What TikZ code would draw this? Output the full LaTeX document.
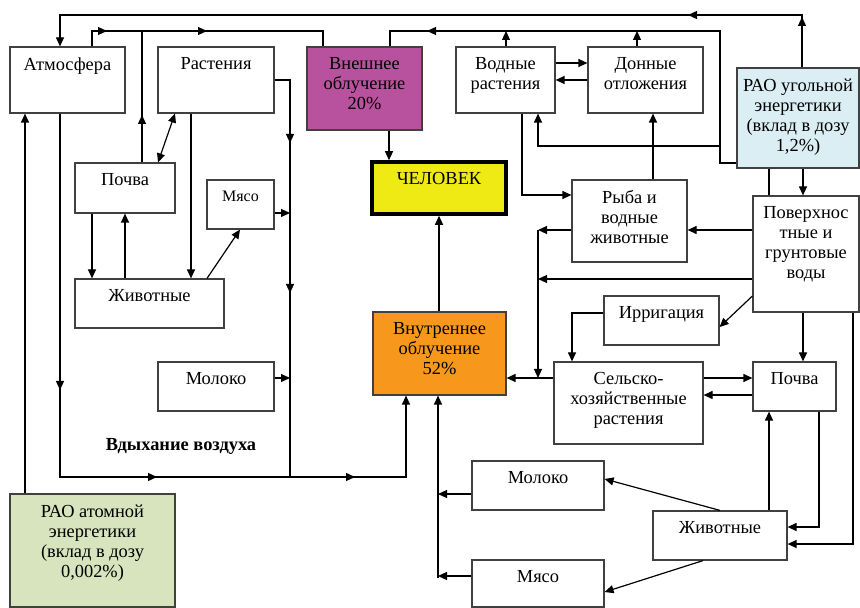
\documentclass[tikz,border=0pt]{standalone}
\usepackage{fontspec}
\setmainfont{Liberation Serif}
\usetikzlibrary{arrows.meta}

\definecolor{vneshcol}{HTML}{B9529E}
\definecolor{chelcol}{HTML}{F0EA14}
\definecolor{vnutcol}{HTML}{F7981D}
\definecolor{coalcol}{HTML}{DAEEF3}
\definecolor{atomcol}{HTML}{D7E4BD}

\tikzset{
  box/.style={draw=black!75, line width=0.6pt, fill=white, inner sep=0pt},
  lbl/.style={anchor=north, align=center, inner sep=0pt, yshift=-5.5pt,
    font=\fontsize{9.2}{10}\selectfont},
  wire/.style={line width=0.6pt},
  arr/.style={wire, -{Triangle[length=4.5pt,width=4pt]}},
}

\begin{document}
\begin{tikzpicture}[x=0.5pt,y=-0.5pt]

\useasboundingbox (0,0) rectangle (860,608);

% ---- Boxes, left part ----
\node[box, minimum width=57.5pt, minimum height=33pt, label={[lbl]north:Атмосфера}] (atm) at (67.5,80) {};
\node[box, minimum width=58pt, minimum height=33pt, label={[lbl]north:Растения}] (rast) at (216,80) {};
\node[box, minimum width=50pt, minimum height=25pt, label={[lbl]north:Почва}] (pochL) at (125,188) {};
\node[box, minimum width=33.5pt, minimum height=24.5pt, label={[lbl, font=\fontsize{8}{9}\selectfont]north:Мясо}] (myasL) at (240.5,204.5) {};
\node[box, minimum width=74.5pt, minimum height=24.5pt, label={[lbl]north:Животные}] (zhivL) at (149.5,303.5) {};
\node[box, minimum width=58pt, minimum height=24.5pt, label={[lbl]north:Молоко}] (molL) at (216,386.5) {};
\node[box, fill=atomcol, minimum width=82.5pt, minimum height=56.5pt,
  label={[lbl]north:{РАО атомной\\энергетики\\(вклад в дозу\\0,002\%)}}] (raoa) at (92.5,550.5) {};
\node[font=\bfseries\fontsize{9.2}{10}\selectfont] (vdyh) at (181,446) {Вдыхание воздуха};

% ---- Boxes, middle ----
\node[box, fill=vneshcol, minimum width=57.5pt, minimum height=41.5pt,
  label={[lbl]north:{Внешнее\\облучение\\20\%}}] (vnesh) at (364.5,88.5) {};
\node[box, fill=chelcol, draw=black, line width=1.8pt, minimum width=67pt, minimum height=26pt,
  label={[lbl, yshift=-0.6pt]north:ЧЕЛОВЕК}] (chel) at (439,188) {};
\node[box, fill=vnutcol, minimum width=66.5pt, minimum height=41.5pt,
  label={[lbl]north:{Внутреннее\\облучение\\52\%}}] (vnut) at (439.5,353.5) {};

% ---- Boxes, right part ----
\node[box, minimum width=49.5pt, minimum height=33pt, label={[lbl]north:{Водные\\растения}}] (vodr) at (505.5,80) {};
\node[box, minimum width=57.5pt, minimum height=33pt, label={[lbl]north:{Донные\\отложения}}] (donn) at (645.5,80) {};
\node[box, fill=coalcol, minimum width=61pt, minimum height=50pt,
  label={[lbl]north:{РАО угольной\\энергетики\\(вклад в дозу\\1,2\%)}}] (raoc) at (798,118) {};
\node[box, minimum width=57.5pt, minimum height=41pt, label={[lbl]north:{Рыба и\\водные\\животные}}] (ryba) at (629.5,221) {};
\node[box, minimum width=53pt, minimum height=58pt,
  label={[lbl]north:{Поверхнос\\тные и\\грунтовые\\воды}}] (pov) at (806,254) {};
\node[box, minimum width=57.5pt, minimum height=24.5pt, label={[lbl]north:Ирригация}] (irr) at (661.5,320.5) {};
\node[box, minimum width=74.5pt, minimum height=41pt,
  label={[lbl]north:{Сельско-\\хозяйственные\\растения}}] (selk) at (628.5,403) {};
\node[box, minimum width=41.5pt, minimum height=24.5pt, label={[lbl]north:Почва}] (pochR) at (794.5,386.5) {};
\node[box, minimum width=66pt, minimum height=24.5pt, label={[lbl]north:Молоко}] (molR) at (538,485.5) {};
\node[box, minimum width=67pt, minimum height=24.5pt, label={[lbl]north:Животные}] (zhivR) at (720,535.5) {};
\node[box, minimum width=66pt, minimum height=23.5pt, label={[lbl]north:Мясо}] (myasR) at (538,583.5) {};

% Junctions
\coordinate (j1) at (142,31);
\coordinate (j2) at (538,230);
\coordinate (j3) at (538,378);
\coordinate (j4) at (290,477);
\coordinate (j5) at (720,146);
\coordinate (j6) at (506,31);
\coordinate (j7) at (637,31);
\coordinate (j8) at (538,279);
\coordinate (j9) at (438,494);
\coordinate (j10) at (438,576);

% Arrow tips along the long lines
\coordinate (t1) at (802,17);
\coordinate (t2) at (688,15);
\coordinate (t3) at (107,31);
\coordinate (t4) at (207,31);
\coordinate (t5) at (142,115);
\coordinate (t6) at (427,31);
\coordinate (t7) at (290,143);
\coordinate (t8) at (290,293);
\coordinate (t9) at (60,390);
\coordinate (t10) at (157,477);
\coordinate (t11) at (355,477);

% ---- Top loops ----
\draw[arr] (802,0 |- raoc.north) -- (802,15) -- (60,15) -- (atm.north -| 60,0);
\draw[arr] ([yshift=-8pt]t1) -- (t1);
\draw[arr] ([xshift=8pt]t2) -- (t2);
\draw[wire] (atm.north -| 92,0) -- (92,31) -- (323,31) -- (vnesh.north -| 323,0);
\draw[arr] ([xshift=-8pt]t3) -- (t3);
\draw[arr] ([xshift=-8pt]t4) -- (t4);
\draw[wire] (pochL.north -| j1) -- (j1);
\draw[arr] ([yshift=-8pt]t5) -- (t5);
\draw[wire] (raoc.west |- 0,163) -- (720,163) -- (720,31) -- (390,31) -- (vnesh.north -| 390,0);
\draw[arr] ([xshift=8pt]t6) -- (t6);
\draw[arr] (vodr.north -| j6) -- (j6);
\draw[arr] (donn.north -| j7) -- (j7);

% ---- Left part ----
\draw[wire, {Triangle[length=4.5pt,width=4pt]}-{Triangle[length=4.5pt,width=4pt]}] (pochL.north -| 158,0) -- (rast.south -| 175,0);
\draw[arr] (rast.south -| 191,0) -- (zhivL.north -| 191,0);
\draw[arr] (pochL.south -| 92,0) -- (zhivL.north -| 92,0);
\draw[arr] (zhivL.north -| 125,0) -- (pochL.south -| 125,0);
\draw[arr] (zhivL.north -| 207,0) -- (myasL.south -| 240,0);
\draw[wire] (rast.east) -- (290,80) -- (j4);
\draw[arr] ([yshift=8pt]t7) -- (t7);
\draw[arr] ([yshift=8pt]t8) -- (t8);
\draw[arr] (myasL.east |- 0,213) -- (290,213);
\draw[arr] (molL.east |- 0,378) -- (290,378);
\draw[arr] (raoa.north -| 25,0) -- (atm.south -| 25,0);
\draw[arr] (atm.south -| 60,0) -- (60,477) -- (406,477) -- (vnut.south -| 406,0);
\draw[arr] ([yshift=8pt]t9) -- (t9);
\draw[arr] ([xshift=-8pt]t10) -- (t10);
\draw[arr] ([xshift=-8pt]t11) -- (t11);

% ---- Middle ----
\draw[arr] (vnesh.south -| 389,0) -- (chel.north -| 389,0);
\draw[arr] (vnut.north -| 439,0) -- (chel.south -| 439,0);
\draw[arr] (selk.west |- j3) -- (vnut.east |- j3);

% ---- Water ----
\draw[arr] (vodr.east |- 0,63) -- (donn.west |- 0,63);
\draw[arr] (donn.west |- 0,80) -- (vodr.east |- 0,80);
\draw[arr] (j5) -- (538,146) -- (vodr.south -| 538,0);
\draw[arr] (ryba.north -| 653,0) -- (donn.south -| 653,0);
\draw[arr] (vodr.south -| 522,0) -- (522,195) -- (ryba.west |- 0,195);
\draw[arr] (raoc.south -| 803,0) -- (pov.north -| 803,0);
\draw[wire] (raoc.south -| 769,0) -- (pov.north -| 769,0);
\draw[arr] (pov.west |- 0,230) -- (ryba.east |- 0,230);
\draw[arr] (ryba.west |- j2) -- (j2);
\draw[arr] (pov.west |- j8) -- (j8);
\draw[arr] (j2) -- (j3);

% ---- Fields ----
\draw[arr] (pov.west |- 0,296) -- (irr.east |- 0,327);
\draw[arr] (irr.west |- 0,313) -- (572,313) -- (selk.north -| 572,0);
\draw[arr] (selk.east |- 0,378) -- (pochR.west |- 0,378);
\draw[arr] (pochR.west |- 0,395) -- (selk.east |- 0,395);
\draw[arr] (pov.south -| 803,0) -- (pochR.north -| 803,0);
\draw[arr] (pov.south -| 853,0) -- (853,544) -- (zhivR.east |- 0,544);
\draw[arr] (pochR.south -| 819,0) -- (819,527) -- (zhivR.east |- 0,527);
\draw[arr] (zhivR.north -| 769,0) -- (pochR.south -| 769,0);
\draw[arr] (zhivR.north -| 720,0) -- (molR.east |- 0,479);
\draw[arr] (zhivR.south -| 703,0) -- (myasR.east |- 0,592);
\draw[arr] (molR.west |- j9) -- (j9);
\draw[arr] (myasR.west |- j10) -- (j10);
\draw[arr] (438,578) -- (vnut.south -| 438,0);

\end{tikzpicture}
\end{document}
